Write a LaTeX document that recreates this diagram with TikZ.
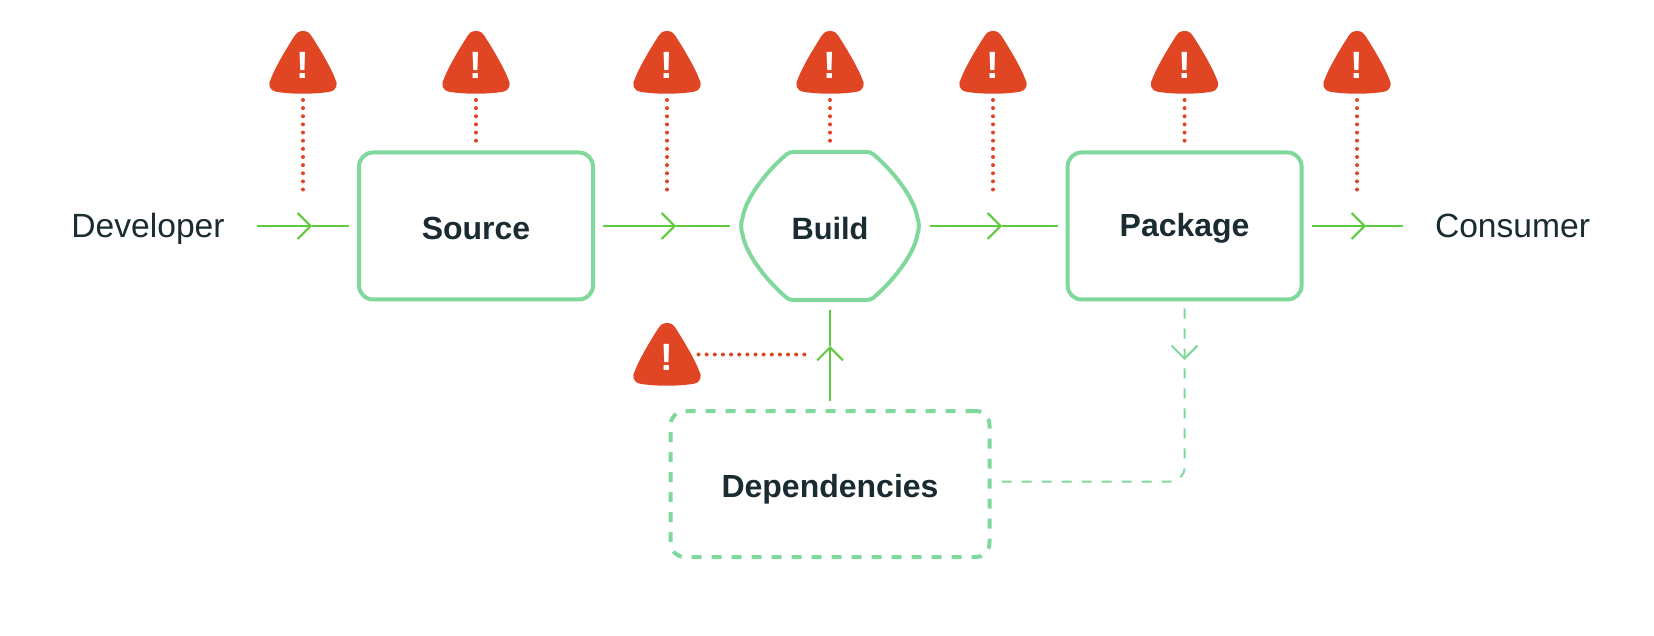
\documentclass[tikz,border=0pt]{standalone}
\usepackage{fontspec}
\setmainfont{Liberation Sans}
\usetikzlibrary{arrows.meta, positioning, calc}
\definecolor{alertred}{HTML}{E04623}
\definecolor{boxgreen}{HTML}{80D89C}
\definecolor{flowgreen}{HTML}{5FC93F}
\definecolor{inkdark}{HTML}{1B2B32}

\begin{document}
\begin{tikzpicture}[
    x=0.5pt,
    y=-0.5pt,
    chevron/.tip={Straight Barb[length=6.5pt, width=13pt, line width=1pt]},
    stage/.style={rectangle, rounded corners=7pt, draw=boxgreen, line width=2pt, minimum width=117pt, minimum height=73.5pt, align=center, text=inkdark, text height=13.7pt, font=\fontsize{16}{19}\selectfont\bfseries},
    buildlabel/.style={rectangle, outer sep=1pt, minimum width=90pt, minimum height=74pt, align=center, text=inkdark, text height=13.7pt, font=\fontsize{15.4}{19}\selectfont\bfseries},
    depstage/.style={stage, dash pattern=on 5pt off 5pt, minimum width=159.5pt, minimum height=73pt, text height=16.9pt},
    actor/.style={rectangle, inner sep=0pt, text=inkdark, text height=12pt, text depth=0pt, font=\fontsize{16.8}{19}\selectfont},
    flow/.style={draw=flowgreen, line width=1pt},
    depflow/.style={draw=boxgreen, line width=1pt, dash pattern=on 5pt off 5pt},
    alertline/.style={draw=alertred, line width=2pt, line cap=round, dash pattern=on 0pt off 4.07pt},
    warnbody/.style={rectangle, inner sep=0pt, outer sep=0pt, minimum width=33.5pt, minimum height=31.5pt},
    warnmark/.style={inner sep=0pt, text=white, font=\fontsize{19}{19}\selectfont\bfseries},
    warn/.pic={
        \fill[alertred] (0,-31.5) .. controls (-4.5,-31.5) and (-6.5,-29.5) .. (-8.8,-26)
            .. controls (-14,-18) and (-26.5,2) .. (-32,16)
            .. controls (-35,21) and (-34.5,27.5) .. (-27,29.2)
            .. controls (-18,30.8) and (-8,31.2) .. (0,31.2)
            .. controls (8,31.2) and (18,30.8) .. (27,29.2)
            .. controls (34.5,27.5) and (35,21) .. (32,16)
            .. controls (26.5,2) and (14,-18) .. (8.8,-26)
            .. controls (6.5,-29.5) and (4.5,-31.5) .. (0,-31.5) -- cycle;
        \node[warnbody] (-body) {};
        \node[warnmark] (-mark) at (0,3) {!};
    }
]
    \useasboundingbox (0,0) rectangle (1654,636);

    % main row
    \node[stage] (source) at (476,226) {Source};
    \node[actor, left=66pt of source] (developer) {Developer};
    \node[buildlabel, right=71.5pt of source] (build) {Build};
    \node[stage, right=71.8pt of build] (package) {Package};
    \node[actor, right=65.5pt of package] (consumer) {Consumer};
    \node[depstage, below=53.5pt of build] (depend) {Dependencies};

    \begin{scope}[shift={(build)}]
        \draw[boxgreen, line width=2pt, line join=round] (-36,-74) -- (36,-74)
            .. controls (39,-74) and (41,-73.5) .. (43,-72)
            .. controls (60,-58) and (84,-30) .. (87.5,-8)
            .. controls (89.3,-3) and (89.3,3) .. (87.5,8)
            .. controls (84,30) and (60,58) .. (43,72)
            .. controls (41,73.5) and (39,74) .. (36,74)
            -- (-36,74)
            .. controls (-39,74) and (-41,73.5) .. (-43,72)
            .. controls (-60,58) and (-84,30) .. (-87.5,8)
            .. controls (-89.3,3) and (-89.3,-3) .. (-87.5,-8)
            .. controls (-84,-30) and (-60,-58) .. (-43,-72)
            .. controls (-41,-73.5) and (-39,-74) .. (-36,-74) -- cycle;
    \end{scope}

    % warning signs
    \pic (w1) at (303,62.5) {warn};
    \pic (w2) at (476,62.5) {warn};
    \pic (w3) at (667,62.5) {warn};
    \pic (w4) at (830,62.5) {warn};
    \pic (w5) at (993,62.5) {warn};
    \pic (w6) at (1184.5,62.5) {warn};
    \pic (w7) at (1357,62.5) {warn};
    \pic (w8) at (667,354.5) {warn};

    \coordinate (tip1) at ([xshift=4.5pt]w1-body |- source);
    \coordinate (tip2) at ([xshift=4.5pt]w3-body |- source);
    \coordinate (tip3) at ([xshift=4.5pt]w5-body |- source);
    \coordinate (tip4) at ([xshift=4.5pt]w7-body |- source);
    \coordinate (tip5) at (830,346);
    \coordinate (tip6) at (1184.5,360);
    \coordinate (end1) at (303,190);
    \coordinate (end3) at (667,190);
    \coordinate (end5) at (993,190);
    \coordinate (end7) at (1357,190);
    \coordinate (end8) at (806,354.5);

    % flow
    \draw[flow, -chevron, shorten <=16pt] (developer) -- (tip1);
    \draw[flow, shorten >=4pt] (tip1) -- (source);
    \draw[flow, -chevron, shorten <=4pt] (source) -- (tip2);
    \draw[flow, shorten >=4pt] (tip2) -- (build);
    \draw[flow, -chevron, shorten <=4pt] (build) -- (tip3);
    \draw[flow, shorten >=4pt] (tip3) -- (package);
    \draw[flow, -chevron, shorten <=4pt] (package) -- (tip4);
    \draw[flow, shorten >=16pt] (tip4) -- (consumer);
    \draw[flow, -chevron, shorten <=4pt] (depend) -- (tip5);
    \draw[flow, shorten >=4pt] (tip5) -- (build);

    % dashed return
    \draw[depflow, -chevron, shorten <=3.5pt] (package) -- (tip6);
    \draw[depflow, rounded corners=7pt, shorten <=5pt] ([yshift=1.25pt]depend.east) -| (tip6);

    % warning lines
    \draw[alertline, shorten <=3pt] (w1-body) -- (end1);
    \draw[alertline, shorten <=3pt, shorten >=4pt] (w2-body) -- (source);
    \draw[alertline, shorten <=3pt] (w3-body) -- (end3);
    \draw[alertline, shorten <=3pt, shorten >=4pt] (w4-body) -- (build);
    \draw[alertline, shorten <=3pt] (w5-body) -- (end5);
    \draw[alertline, shorten <=3pt, shorten >=4pt] (w6-body) -- (package);
    \draw[alertline, shorten <=3pt] (w7-body) -- (end7);
    \draw[alertline, shorten <=-1pt] (w8-body) -- (end8);
\end{tikzpicture}
\end{document}
